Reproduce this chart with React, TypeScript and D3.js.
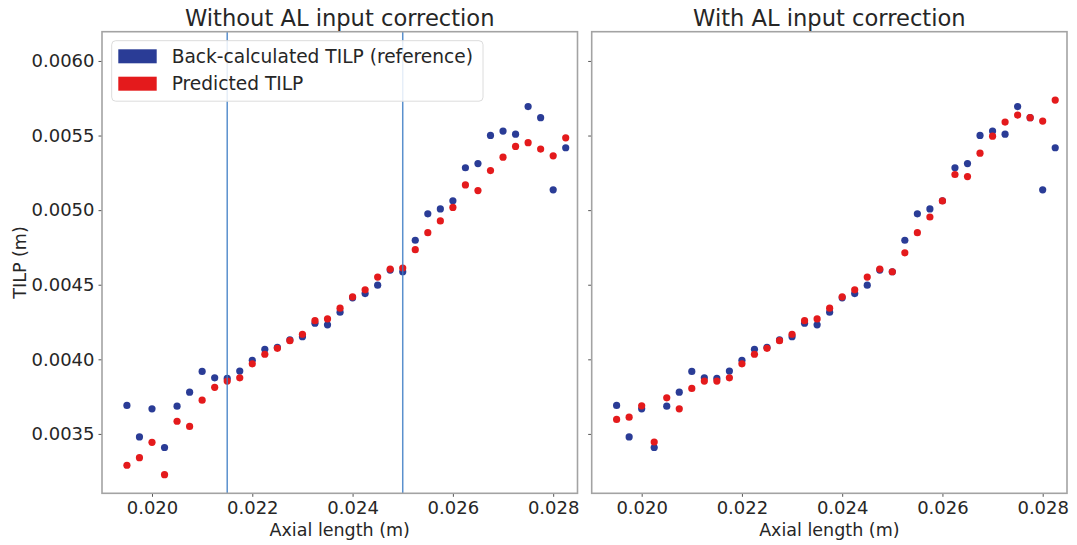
import React, { useRef, useEffect } from 'react';
import * as d3 from 'd3';

// axial length (m), same for every series
const axialLength = [
  0.0195, 0.01975, 0.0200, 0.02025, 0.0205, 0.02075, 0.0210, 0.02125, 0.0215,
  0.02175, 0.0220, 0.02225, 0.0225, 0.02275, 0.0230, 0.02325, 0.0235, 0.02375,
  0.0240, 0.02425, 0.0245, 0.02475, 0.0250, 0.02525, 0.0255, 0.02575, 0.0260,
  0.02625, 0.0265, 0.02675, 0.0270, 0.02725, 0.0275, 0.02775, 0.0280, 0.02825,
];

// back-calculated TILP (reference)
const tilpReference = [
  0.003691, 0.003480, 0.003668, 0.003409, 0.003686, 0.003780, 0.003919, 0.003876, 0.003872,
  0.003921, 0.003993, 0.004067, 0.004081, 0.004130, 0.004152, 0.004242, 0.004231, 0.004316,
  0.004412, 0.004441, 0.004497, 0.004598, 0.004587, 0.004798, 0.004975, 0.005008, 0.005063,
  0.005284, 0.005312, 0.005501, 0.005530, 0.005509, 0.005694, 0.005620, 0.005136, 0.005418,
];

// predicted TILP without AL input correction
const predictedWithout = [
  0.003290, 0.003341, 0.003444, 0.003227, 0.003585, 0.003550, 0.003726, 0.003812, 0.003854,
  0.003876, 0.003970, 0.004034, 0.004074, 0.004125, 0.004168, 0.004259, 0.004271, 0.004343,
  0.004419, 0.004466, 0.004551, 0.004605, 0.004612, 0.004735, 0.004849, 0.004928, 0.005018,
  0.005169, 0.005131, 0.005265, 0.005355, 0.005427, 0.005452, 0.005409, 0.005364, 0.005485,
];

// predicted TILP with AL input correction
const predictedWith = [
  0.003597, 0.003612, 0.003688, 0.003446, 0.003742, 0.003668, 0.003805, 0.003854, 0.003854,
  0.003876, 0.003970, 0.004034, 0.004074, 0.004125, 0.004168, 0.004259, 0.004271, 0.004343,
  0.004419, 0.004466, 0.004551, 0.004605, 0.004587, 0.004714, 0.004849, 0.004954, 0.005062,
  0.005239, 0.005225, 0.005382, 0.005496, 0.005590, 0.005637, 0.005620, 0.005597, 0.005738,
];

const xTicks = [0.020, 0.022, 0.024, 0.026, 0.028];
const yTicks = [0.0035, 0.0040, 0.0045, 0.0050, 0.0055, 0.0060];
const rangeLines = [0.0215, 0.025];
const titles = ['Without AL input correction', 'With AL input correction'];
const legendLabels = ['Back-calculated TILP (reference)', 'Predicted TILP'];

const BLUE = '#2a3c96';
const RED = '#e41a1c';
const SPINE = '#a3a3a3';
const TEXT = '#262626';
const FONT = 'DejaVu Sans, sans-serif';

function App() {
  const ref = useRef(null);

  useEffect(() => {
    const svg = d3.select(ref.current);
    svg.selectAll('*').remove();

    const top = 31.7;
    const bottom = 493.3;
    const panels = [
      { left: 102, right: 577.5, pred: predictedWithout, lines: rangeLines, labelY: true, legend: true },
      { left: 591.7, right: 1067, pred: predictedWith, lines: [], labelY: false, legend: false },
    ];

    const yScale = d3.scaleLinear().domain([0.003102, 0.006196]).range([bottom, top]);

    panels.forEach((p, pi) => {
      const xScale = d3.scaleLinear().domain([0.019003, 0.028485]).range([p.left, p.right]);
      const g = svg.append('g');

      // points: reference first, prediction drawn over it
      g.append('g').selectAll('circle')
        .data(axialLength)
        .enter().append('circle')
        .attr('cx', (d) => xScale(d))
        .attr('cy', (d, i) => yScale(tilpReference[i]))
        .attr('r', 3.6)
        .attr('fill', BLUE);

      g.append('g').selectAll('circle')
        .data(axialLength)
        .enter().append('circle')
        .attr('cx', (d) => xScale(d))
        .attr('cy', (d, i) => yScale(p.pred[i]))
        .attr('r', 3.6)
        .attr('fill', RED);

      // correction range markers
      g.selectAll('line.range')
        .data(p.lines)
        .enter().append('line')
        .attr('class', 'range')
        .attr('x1', (d) => xScale(d))
        .attr('x2', (d) => xScale(d))
        .attr('y1', top)
        .attr('y2', bottom)
        .attr('stroke', '#3d7cc4')
        .attr('stroke-opacity', 0.85)
        .attr('stroke-width', 1.5);

      // axes
      const xAxis = d3.axisBottom(xScale).tickValues(xTicks).tickFormat(d3.format('.3f')).tickSize(3.5).tickPadding(4);
      const yAxis = d3.axisLeft(yScale).tickValues(yTicks).tickFormat(p.labelY ? d3.format('.4f') : () => '').tickSize(3.5).tickPadding(4);

      const gx = g.append('g').attr('transform', `translate(0,${bottom})`).call(xAxis);
      const gy = g.append('g').attr('transform', `translate(${p.left},0)`).call(yAxis);
      [gx, gy].forEach((a) => {
        a.select('.domain').remove();
        a.selectAll('.tick line').attr('stroke', '#555').attr('stroke-width', 1);
        a.selectAll('.tick text').attr('fill', TEXT).style('font-family', FONT).style('font-size', '18px');
      });

      // frame
      g.append('rect')
        .attr('x', p.left)
        .attr('y', top)
        .attr('width', p.right - p.left)
        .attr('height', bottom - top)
        .attr('fill', 'none')
        .attr('stroke', SPINE)
        .attr('stroke-width', 1.6);

      g.append('text')
        .attr('x', (p.left + p.right) / 2)
        .attr('y', 26)
        .attr('text-anchor', 'middle')
        .attr('fill', TEXT)
        .style('font-family', FONT)
        .style('font-size', '22.6px')
        .text(titles[pi]);

      g.append('text')
        .attr('x', (p.left + p.right) / 2)
        .attr('y', 536)
        .attr('text-anchor', 'middle')
        .attr('fill', TEXT)
        .style('font-family', FONT)
        .style('font-size', '17.5px')
        .text('Axial length (m)');

      if (p.labelY) {
        g.append('text')
          .attr('transform', `translate(26,${(top + bottom) / 2}) rotate(-90)`)
          .attr('text-anchor', 'middle')
          .attr('fill', TEXT)
          .style('font-family', FONT)
          .style('font-size', '17.5px')
          .text('TILP (m)');
      }

      if (p.legend) {
        const lg = g.append('g');
        lg.append('rect')
          .attr('x', 111.7)
          .attr('y', 40.7)
          .attr('width', 371.3)
          .attr('height', 60.5)
          .attr('rx', 4)
          .attr('fill', 'white')
          .attr('fill-opacity', 0.85)
          .attr('stroke', '#dcdcdc')
          .attr('stroke-width', 1);
        [BLUE, RED].forEach((c, li) => {
          lg.append('rect')
            .attr('x', 118.3)
            .attr('y', 49.3 + li * 27.4)
            .attr('width', 38.4)
            .attr('height', 14)
            .attr('fill', c);
          lg.append('text')
            .attr('x', 171.7)
            .attr('y', 63 + li * 27.4)
            .attr('fill', TEXT)
            .style('font-family', FONT)
            .style('font-size', '18.6px')
            .text(legendLabels[li]);
        });
      }
    });
  }, []);

  return (
    <svg ref={ref} width={1077} height={545} style={{ position: 'absolute', left: 0, top: 0, background: 'white' }}></svg>
  );
}

export default App;
